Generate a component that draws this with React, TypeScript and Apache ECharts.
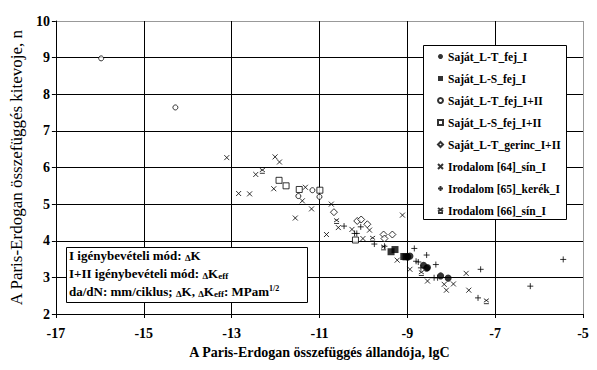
import React, { useEffect, useRef } from "react";
import * as echarts from "echarts";

const seriesNames = [
  "Saját_L-T_fej_I",
  "Saját_L-S_fej_I",
  "Saját_L-T_fej_I+II",
  "Saját_L-S_fej_I+II",
  "Saját_L-T_gerinc_I+II",
  "Irodalom [64]_sín_I",
  "Irodalom [65]_kerék_I",
  "Irodalom [66]_sín_I",
];

const ltFejI = [[-8.99, 3.56], [-8.94, 3.58], [-8.63, 3.33], [-8.56, 3.25], [-8.54, 3.27], [-8.24, 3.04], [-8.07, 2.98]];
const lsFejI = [[-9.37, 3.7], [-9.28, 3.76], [-9.08, 3.57], [-9.03, 3.56]];
const ltFejI_II = [[-15.97, 8.98], [-14.28, 7.64], [-11.16, 5.38], [-11.48, 5.22], [-11.0, 5.2]];
const lsFejI_II = [[-11.92, 5.65], [-11.76, 5.5], [-11.46, 5.4], [-10.99, 5.38], [-10.18, 4.02]];
const ltGerincI_II = [[-10.67, 4.78], [-10.14, 4.54], [-10.05, 4.58], [-9.91, 4.45], [-9.54, 4.17], [-9.34, 4.17], [-9.52, 4.06]];
const ref64 = [
  [-13.11, 6.27], [-12.84, 5.29], [-12.59, 5.28], [-12.01, 6.29], [-11.91, 6.15], [-12.45, 5.81],
  [-12.04, 5.42], [-11.32, 5.46], [-11.39, 5.09], [-11.18, 4.87], [-11.55, 4.62], [-10.73, 5.0],
  [-10.57, 4.36], [-10.26, 4.31], [-9.86, 4.29], [-10.84, 4.17], [-10.01, 4.06], [-9.11, 4.7],
  [-9.23, 3.47], [-8.94, 3.22], [-8.54, 2.9], [-8.16, 2.81], [-7.95, 2.82], [-8.11, 2.65],
  [-7.66, 3.11], [-7.6, 2.65],
];
const ref65 = [
  [-8.84, 3.79], [-8.56, 3.61], [-8.8, 3.44], [-8.75, 3.42], [-8.35, 3.35], [-8.69, 3.26],
  [-8.39, 2.99], [-8.31, 2.99], [-7.33, 3.22], [-5.45, 3.49], [-6.2, 2.76], [-7.39, 2.44],
  [-10.44, 4.4], [-10.2, 4.2], [-10.15, 4.2], [-10.06, 4.38], [-9.75, 3.91], [-9.52, 3.85],
];
const ref66 = [[-12.3, 5.91], [-10.61, 4.54], [-9.79, 4.06], [-9.54, 3.82], [-8.68, 3.12], [-7.2, 2.35]];

const xTicks = { min: -17, max: -5, interval: 2 };
const yTicks = { min: 2, max: 10, interval: 1 };

const FONT = "'Liberation Serif', 'Times New Roman', serif";

export default function App() {
  const ref = useRef<HTMLDivElement>(null);
  useEffect(() => {
    if (!ref.current) return;
    const chart = echarts.init(ref.current, undefined, { renderer: "svg" });
    const black = "#000";
    const hollow = { color: "#fff", borderColor: black, borderWidth: 1 };
    const lineSym = { color: "rgba(0,0,0,0)", borderColor: black, borderWidth: 1 };
    const mk = (name: string, data: number[][], symbol: string, size: number, itemStyle: any) => ({
      name,
      type: "scatter",
      data,
      symbol,
      symbolSize: size,
      itemStyle,
      z: 3,
    });
    const sub = { fontSize: 9, fontFamily: FONT, fontWeight: "bold", color: black, verticalAlign: "bottom", padding: [5, 0, 0, 0] };
    const tri = { fontSize: 9, fontFamily: FONT, fontWeight: "bold", color: black, verticalAlign: "bottom" };
    const sup = { fontSize: 8, fontFamily: FONT, fontWeight: "bold", color: black, verticalAlign: "top", padding: [0, 0, 6, 0] };
    const n = { fontSize: 13, fontFamily: FONT, fontWeight: "bold", color: black };
    const rich = { n, sub, tri, sup };
    chart.setOption({
      animation: false,
      backgroundColor: "#fff",
      grid: { left: 53, right: 14, top: 21, bottom: 56 },
      xAxis: {
        type: "value",
        min: xTicks.min,
        max: xTicks.max,
        interval: xTicks.interval,
        name: "A Paris-Erdogan összefüggés állandója, lgC",
        nameLocation: "middle",
        nameGap: 31,
        nameTextStyle: { fontFamily: FONT, fontWeight: "bold", fontSize: 14, color: black },
        axisLine: { lineStyle: { color: black, width: 1 } },
        axisTick: { show: true, length: 4, lineStyle: { color: black } },
        axisLabel: { fontFamily: FONT, fontWeight: "bold", fontSize: 14, color: black, margin: 12 },
        splitLine: { show: true, lineStyle: { color: [black, black, black, black, black, black, "#999"], width: 1 } },
      },
      yAxis: {
        type: "value",
        min: yTicks.min,
        max: yTicks.max,
        interval: yTicks.interval,
        name: "A Paris-Erdogan összefüggés kitevoje, n",
        nameLocation: "middle",
        nameGap: 29,
        nameTextStyle: { fontFamily: FONT, fontWeight: "normal", fontSize: 17, color: black },
        axisLine: { show: true, lineStyle: { color: black, width: 1 } },
        axisTick: { show: true, length: 4, lineStyle: { color: black } },
        axisLabel: { fontFamily: FONT, fontWeight: "bold", fontSize: 14, color: black, margin: 6 },
        splitLine: { show: true, lineStyle: { color: [black, black, black, black, black, black, black, black, "#999"], width: 1 } },
      },
      legend: {
        orient: "vertical",
        left: 432,
        top: 45,
        itemWidth: 5,
        itemHeight: 5,
        itemGap: 9,
        z: 10,
        data: seriesNames,
        textStyle: { fontFamily: FONT, fontWeight: "bold", fontSize: 11.5, color: black, lineHeight: 13, padding: [0, 0, 0, 0] },
      },
      graphic: [
        {
          type: "rect",
          z: 5,
          shape: { x: 423.5, y: 45.5, width: 143, height: 174 },
          style: { fill: "#fff", stroke: black, lineWidth: 1 },
        },
        {
          type: "rect",
          z: 5,
          shape: { x: 66.5, y: 247.5, width: 241, height: 55 },
          style: { fill: "#fff", stroke: black, lineWidth: 1 },
        },
        {
          type: "text",
          z: 6,
          x: 69,
          y: 249,
          style: { text: "{n|I igénybevételi mód: }{tri|Δ}{n|K}", rich },
        },
        {
          type: "text",
          z: 6,
          x: 69,
          y: 266,
          style: { text: "{n|I+II igénybevételi mód: }{tri|Δ}{n|K}{sub|eff}", rich },
        },
        {
          type: "text",
          z: 6,
          x: 69,
          y: 284,
          style: { text: "{n|da/dN: mm/ciklus; }{tri|Δ}{n|K, }{tri|Δ}{n|K}{sub|eff}{n|: MPam}{sup|1/2}", rich },
        },
      ],
      series: [
        mk(seriesNames[0], ltFejI, "circle", 7, { color: black }),
        mk(seriesNames[1], lsFejI, "rect", 7, { color: black }),
        mk(seriesNames[2], ltFejI_II, "circle", 5, hollow),
        mk(seriesNames[3], lsFejI_II, "rect", 6, hollow),
        mk(seriesNames[4], ltGerincI_II, "diamond", 7, hollow),
        mk(seriesNames[5], ref64, "path://M0,0L10,10M10,0L0,10", 5, lineSym),
        mk(seriesNames[6], ref65, "path://M5,0L5,10M0,5L10,5", 6, lineSym),
        mk(seriesNames[7], ref66, "path://M0,0L10,7M10,0L0,7M0,10L10,10", 5, lineSym),
      ],
    });
    return () => chart.dispose();
  }, []);
  return <div ref={ref} style={{ width: 597, height: 370, position: "absolute", left: 0, top: 0 }} />;
}
